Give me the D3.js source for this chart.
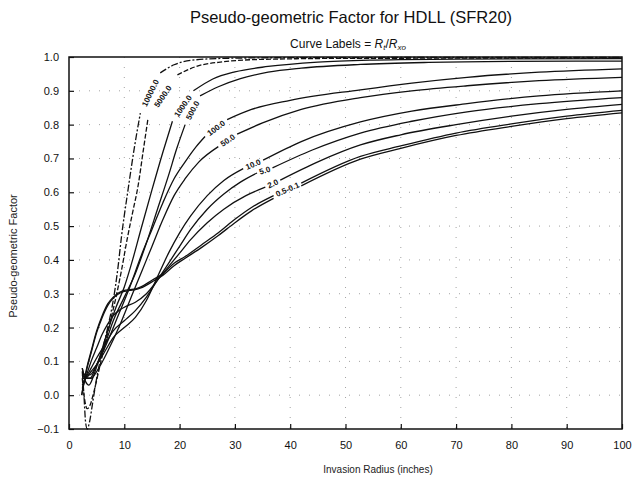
<!DOCTYPE html>
<html>
<head>
<meta charset="utf-8">
<script src="https://cdn.jsdelivr.net/npm/d3@7"></script>
<style>
  html, body { margin: 0; padding: 0; background: #fff; }
  svg { display: block; font-family: "Liberation Sans", Arial, sans-serif; }
</style>
</head>
<body>
<svg id="chart" width="634" height="486"></svg>
<script>
// Curve labels: ratio Rt/Rxo
const ratios = ["10000.0", "5000.0", "1000.0", "500.0", "100.0", "50.0", "10.0", "5.0", "2.0", "0.5", "0.1"];

// Pseudo-geometric factor vs invasion radius (inches) for each ratio
const curve10000 = [[2.4,0.07],[2.7,0.0],[3.0,-0.08],[3.3,-0.10],[3.7,-0.08],[4.3,-0.02],[5,0.05],[6,0.13],[7,0.2],[8,0.28],[8.8,0.37],[9.5,0.47],[10.7,0.61],[11.8,0.73],[12.9,0.834],[16.5,0.953],[19,0.977],[22,0.99],[28,0.996],[40,0.998],[100,0.999]];
const curve5000 = [[2.4,0.05],[2.8,-0.01],[3.3,-0.04],[3.8,-0.03],[4.5,0.01],[5.5,0.08],[6.5,0.15],[7.5,0.22],[8.5,0.29],[9.5,0.37],[10.5,0.46],[11.5,0.54],[12.5,0.62],[13.4,0.72],[14.3,0.82],[19.6,0.947],[23,0.972],[28,0.986],[35,0.993],[50,0.996],[100,0.997]];
const curve1000 = [[2.4,0.08],[3,0.04],[3.6,0.03],[4.5,0.06],[5.5,0.11],[7,0.19],[8.5,0.26],[10,0.32],[11.5,0.40],[13,0.49],[15,0.607],[17,0.72],[18.7,0.81],[22.5,0.90],[26,0.935],[30,0.956],[36,0.972],[45,0.985],[55,0.991],[70,0.994],[100,0.995]];
const curve500 = [[2.4,0.08],[3,0.05],[3.8,0.05],[5,0.09],[6.5,0.15],[8,0.22],[10,0.29],[12,0.36],[14,0.45],[16,0.55],[18,0.65],[19.5,0.73],[21,0.80],[23.7,0.885],[27,0.912],[31,0.936],[36,0.955],[42,0.967],[52.7,0.978],[65,0.984],[80,0.987],[100,0.988]];
const curve100 = [[2.4,0.07],[3,0.06],[3.8,0.06],[5,0.09],[7,0.16],[9,0.24],[11,0.32],[13,0.41],[15,0.49],[17,0.57],[19,0.64],[21,0.69],[23,0.735],[24.6,0.765],[28.6,0.815],[33,0.845],[40,0.872],[52.7,0.903],[62,0.923],[72,0.94],[85,0.955],[100,0.965]];
const curve50 = [[2.4,0.06],[3,0.05],[4,0.05],[5,0.07],[7,0.13],[9,0.2],[11,0.28],[13,0.36],[15,0.44],[17,0.52],[19,0.59],[21,0.64],[23.5,0.69],[27,0.735],[30.4,0.772],[35,0.805],[42,0.845],[52.7,0.88],[62,0.9],[72,0.915],[85,0.93],[100,0.94]];
const curve10 = [[2.4,0.05],[3,0.05],[4,0.07],[5,0.09],[6.5,0.13],[8,0.17],[10,0.2],[12,0.23],[14,0.28],[16,0.35],[18,0.42],[20,0.48],[22,0.53],[25,0.59],[28,0.635],[31.5,0.67],[35.1,0.695],[42,0.75],[52.7,0.808],[62,0.84],[72,0.862],[85,0.885],[100,0.90]];
const curve5 = [[2.4,0.03],[3,0.05],[4,0.08],[5,0.11],[6.5,0.15],[8,0.19],[10,0.22],[12,0.25],[14,0.29],[16,0.34],[18,0.39],[20,0.44],[22,0.49],[25,0.55],[28,0.595],[31,0.63],[34,0.657],[36.8,0.672],[44,0.725],[52.7,0.775],[62,0.81],[72,0.838],[85,0.862],[100,0.88]];
const curve2 = [[2.4,0.02],[3,0.05],[4,0.1],[5,0.14],[6,0.18],[7,0.21],[8,0.235],[9,0.25],[10,0.26],[12,0.275],[14,0.30],[16,0.34],[18,0.38],[20,0.42],[22,0.46],[25,0.51],[28,0.55],[32,0.59],[35.5,0.615],[38.2,0.636],[45,0.69],[52.7,0.74],[60,0.77],[70,0.80],[80,0.825],[90,0.845],[100,0.86]];
const curve05 = [[2.3,0.0],[2.7,0.04],[3.2,0.08],[4,0.13],[5,0.19],[6,0.235],[7,0.27],[8,0.29],[9,0.303],[10,0.31],[11,0.312],[12,0.314],[13,0.32],[15,0.34],[17,0.36],[19,0.39],[21,0.41],[24,0.445],[27,0.48],[30,0.52],[33,0.555],[37,0.59],[42,0.627],[52.7,0.706],[60,0.737],[70,0.775],[80,0.802],[90,0.825],[100,0.842]];
const curve01 = [[2.3,0.0],[2.7,0.035],[3.2,0.075],[4,0.125],[5,0.185],[6,0.23],[7,0.265],[8,0.287],[9,0.30],[10,0.307],[11,0.31],[12,0.312],[13,0.317],[15,0.335],[17,0.355],[19,0.383],[21,0.405],[24,0.437],[27,0.472],[30,0.51],[33,0.545],[37,0.582],[42,0.619],[52.7,0.698],[60,0.73],[70,0.768],[80,0.795],[90,0.818],[100,0.835]];

const curves = [curve10000, curve5000, curve1000, curve500, curve100, curve50, curve10, curve5, curve2, curve05, curve01];

// Stretch of each curve (in inches) that is left open for its label
const labelGaps = [[12.9,16.5],[14.3,19.6],[18.7,22.5],[21,23.7],[24.6,28.6],[27,30.4],[31.5,35.1],[34,36.8],[35.5,38.2],[37,42],[37,42]];
const labelTexts = ["10000.0", "5000.0", "1000.0", "500.0", "100.0", "50.0", "10.0", "5.0", "2.0", "0.5-0.1", ""];
const dashPatterns = ["7,2,2,2", "5,2", null, null, null, null, null, null, null, null, null];

const xTicks = [0, 10, 20, 30, 40, 50, 60, 70, 80, 90, 100];
const yTicks = [-0.1, 0.0, 0.1, 0.2, 0.3, 0.4, 0.5, 0.6, 0.7, 0.8, 0.9, 1.0];

const svg = d3.select("#chart");
const plotLeft = 69, plotRight = 622, plotTop = 57, plotBottom = 429;

const x = d3.scaleLinear().domain([0, 100]).range([plotLeft, plotRight]);
const y = d3.scaleLinear().domain([-0.1, 1.0]).range([plotBottom, plotTop]);

// Titles
svg.append("text").attr("x", 351).attr("y", 23).attr("text-anchor", "middle")
  .attr("font-size", 16.5).attr("fill", "#111")
  .text("Pseudo-geometric Factor for HDLL (SFR20)");

const sub = svg.append("text").attr("x", 348).attr("y", 48).attr("text-anchor", "middle")
  .attr("font-size", 12).attr("fill", "#111");
sub.append("tspan").text("Curve Labels = ");
sub.append("tspan").attr("font-style", "italic").text("R");
sub.append("tspan").attr("font-size", 8).attr("dy", 2).attr("font-style", "italic").text("t");
sub.append("tspan").attr("dy", -2).text("/");
sub.append("tspan").attr("font-style", "italic").text("R");
sub.append("tspan").attr("font-size", 8).attr("dy", 2).attr("font-style", "italic").text("xo");

svg.append("text").attr("x", 378).attr("y", 473).attr("text-anchor", "middle")
  .attr("font-size", 10).attr("fill", "#222")
  .text("Invasion Radius (inches)");

svg.append("text").attr("transform", "translate(17,256) rotate(-90)").attr("text-anchor", "middle")
  .attr("font-size", 11).attr("fill", "#222")
  .text("Pseudo-geometric Factor");

// Sparse dotted grid
const grid = svg.append("g").attr("stroke", "#999").attr("stroke-width", 0.9)
  .attr("stroke-dasharray", "1,9");
grid.selectAll("line.gx").data(xTicks.slice(1, -1)).join("line").attr("class", "gx")
  .attr("x1", d => x(d)).attr("x2", d => x(d)).attr("y1", plotTop).attr("y2", plotBottom);
grid.selectAll("line.gy").data(yTicks.slice(1, -1)).join("line").attr("class", "gy")
  .attr("y1", d => y(d)).attr("y2", d => y(d)).attr("x1", plotLeft).attr("x2", plotRight);

// Axes with inward ticks
const xAxis = d3.axisBottom(x).tickValues(xTicks).tickSizeInner(-5).tickSizeOuter(0)
  .tickPadding(12).tickFormat(d3.format("d"));
const yAxis = d3.axisLeft(y).tickValues(yTicks).tickSizeInner(-5).tickSizeOuter(0)
  .tickPadding(10).tickFormat(d3.format(".1f"));

const gx = svg.append("g").attr("transform", `translate(0,${plotBottom})`).call(xAxis);
const gy = svg.append("g").attr("transform", `translate(${plotLeft},0)`).call(yAxis);
[gx, gy].forEach(g => {
  g.select(".domain").remove();
  g.selectAll("line").attr("stroke", "#111").attr("stroke-width", 1.2);
  g.selectAll("text").attr("font-size", 11).attr("fill", "#111")
    .attr("font-family", "'Liberation Sans', Arial, sans-serif");
});

// Frame
svg.append("rect").attr("x", plotLeft).attr("y", plotTop)
  .attr("width", plotRight - plotLeft).attr("height", plotBottom - plotTop)
  .attr("fill", "none").attr("stroke", "#111").attr("stroke-width", 1.5);

// Curves, each split around its label
const line = d3.line().x(d => x(d[0])).y(d => y(d[1])).curve(d3.curveMonotoneX);

function valueAt(data, xv) {
  for (let i = 1; i < data.length; i++) {
    if (xv <= data[i][0]) {
      const a = data[i - 1], b = data[i];
      const t = (xv - a[0]) / (b[0] - a[0]);
      return a[1] + t * (b[1] - a[1]);
    }
  }
  return data[data.length - 1][1];
}

const plot = svg.append("g");
curves.forEach((data, i) => {
  const [g0, g1] = labelGaps[i];
  const before = data.filter(d => d[0] < g0).concat([[g0, valueAt(data, g0)]]);
  const after = [[g1, valueAt(data, g1)]].concat(data.filter(d => d[0] > g1));
  [before, after].forEach(seg => {
    plot.append("path").attr("d", line(seg)).attr("fill", "none")
      .attr("stroke", "#111").attr("stroke-width", 1.3)
      .attr("stroke-dasharray", dashPatterns[i]);
  });
  if (labelTexts[i]) {
    const p0 = [x(g0), y(valueAt(data, g0))];
    const p1 = [x(g1), y(valueAt(data, g1))];
    const ang = Math.atan2(p1[1] - p0[1], p1[0] - p0[0]) * 180 / Math.PI;
    const mx = (p0[0] + p1[0]) / 2, my = (p0[1] + p1[1]) / 2;
    plot.append("text").attr("transform", `translate(${mx},${my}) rotate(${ang})`)
      .attr("text-anchor", "middle").attr("dy", "0.35em")
      .attr("font-size", 8).attr("font-weight", "bold").attr("fill", "#111")
      .text(labelTexts[i]);
  }
});
</script>
</body>
</html>
